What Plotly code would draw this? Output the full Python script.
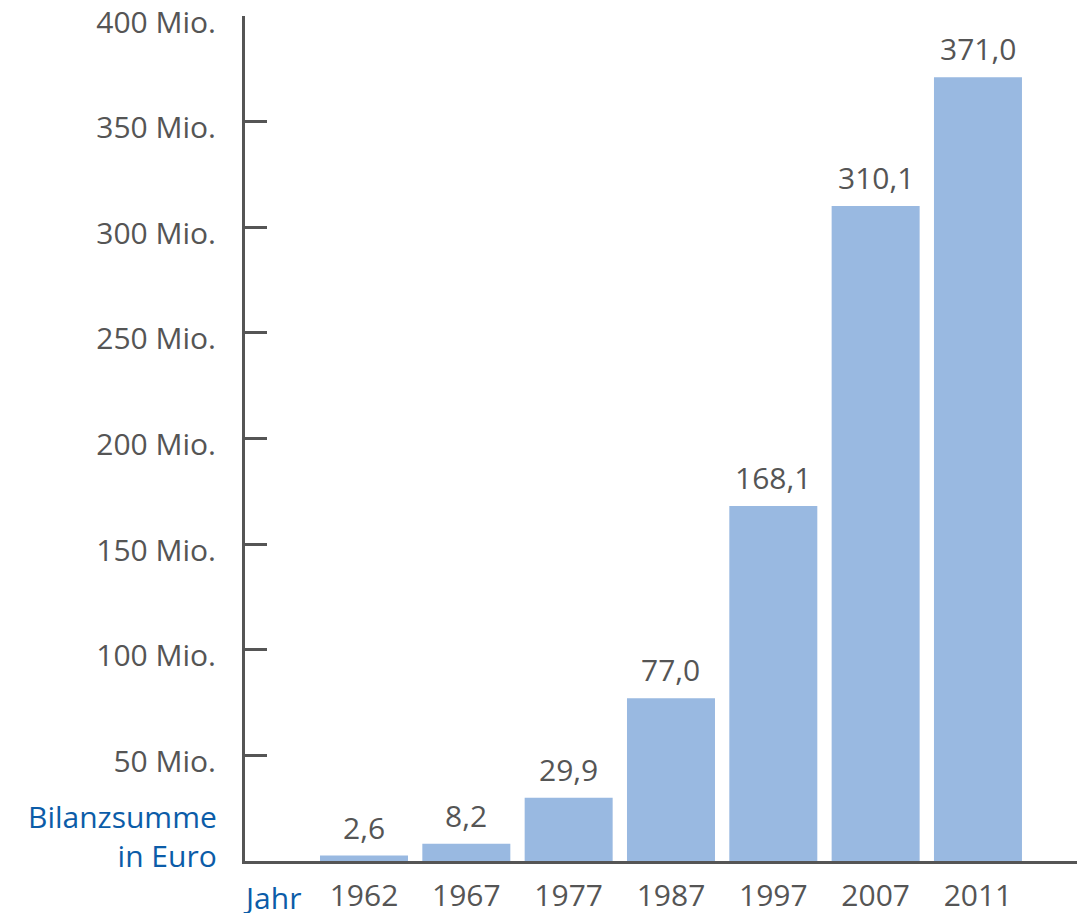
import plotly.graph_objects as go

years = ["1962", "1967", "1977", "1987", "1997", "2007", "2011"]
values = [2.6, 8.2, 29.9, 77.0, 168.1, 310.1, 371.0]
tick_vals = [50, 100, 150, 200, 250, 300, 350, 400]
tick_text = ["50 Mio.", "100 Mio.", "150 Mio.", "200 Mio.", "250 Mio.", "300 Mio.", "350 Mio.", "400 Mio."]
labels = [f"{v:.1f}".replace(".", ",") for v in values]

GREY = "#555555"
BLUE = "#0b5ca8"
BAR = "#99b9e1"
FONT = "Open Sans"
FS = 30

xs = list(range(len(years)))
fig = go.Figure(go.Bar(
    x=xs, y=values, marker=dict(color=BAR, line=dict(width=0)),
    cliponaxis=False, width=0.86, hoverinfo="skip",
))

annotations = [
    dict(x=x, y=v, xref="x", yref="y", text=t, showarrow=False, xanchor="center",
         yanchor="bottom", yshift=6, font=dict(family=FONT, size=FS, color=GREY))
    for x, v, t in zip(xs, values, labels)
]
annotations += [
    dict(text="Bilanzsumme<br>in Euro", xref="paper", yref="paper", x=0, y=0,
         xanchor="right", yanchor="bottom", xshift=-26, yshift=-17, showarrow=False, align="right",
         font=dict(family=FONT, size=FS, color=BLUE)),
    dict(text="Jahr", xref="paper", yref="paper", x=0, y=0, xanchor="left", yanchor="top",
         xshift=-4, yshift=-14, showarrow=False, font=dict(family=FONT, size=FS, color=BLUE)),
]

fig.update_layout(
    width=1077, height=905, plot_bgcolor="white", paper_bgcolor="white",
    margin=dict(l=237, r=0, t=8, b=52, autoexpand=False), showlegend=False,
    font=dict(family=FONT, size=FS, color=GREY),
    xaxis=dict(range=[-1.163, 7.046], tickvals=xs, ticktext=years, automargin=False,
               showline=True, linecolor=GREY, linewidth=3, ticks="", showgrid=False,
               zeroline=False, ticklabelstandoff=6, ticklabeloverflow="allow",
               tickfont=dict(family=FONT, size=FS, color=GREY)),
    yaxis=dict(range=[0, 400.02], tickvals=tick_vals, ticktext=tick_text, showline=True,
               automargin=False,
               linecolor=GREY, linewidth=3, ticks="inside", ticklen=22, tickwidth=3,
               tickcolor=GREY, showgrid=False, zeroline=False, ticklabelstandoff=20,
               ticklabelshift=6, ticklabeloverflow="allow",
               tickfont=dict(family=FONT, size=FS, color=GREY)),
    annotations=annotations,
)

fig.write_html("out.html")
